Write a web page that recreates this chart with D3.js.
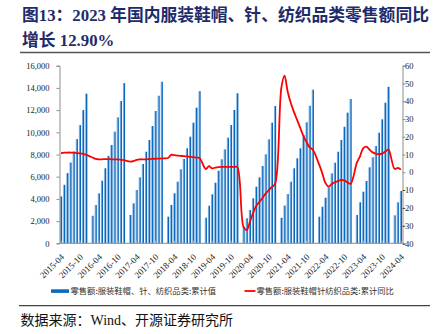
<!DOCTYPE html>
<html><head><meta charset="utf-8">
<script src="https://cdn.jsdelivr.net/npm/d3@7"></script>
<style>
html,body{margin:0;padding:0;background:#fff;}
svg{display:block;}
</style></head>
<body>
<script>
const months = [
"2015-04","2015-05","2015-06","2015-07","2015-08","2015-09","2015-10","2015-11","2015-12",
"2016-01","2016-02","2016-03","2016-04","2016-05","2016-06","2016-07","2016-08","2016-09","2016-10","2016-11","2016-12",
"2017-01","2017-02","2017-03","2017-04","2017-05","2017-06","2017-07","2017-08","2017-09","2017-10","2017-11","2017-12",
"2018-01","2018-02","2018-03","2018-04","2018-05","2018-06","2018-07","2018-08","2018-09","2018-10","2018-11","2018-12",
"2019-01","2019-02","2019-03","2019-04","2019-05","2019-06","2019-07","2019-08","2019-09","2019-10","2019-11","2019-12",
"2020-01","2020-02","2020-03","2020-04","2020-05","2020-06","2020-07","2020-08","2020-09","2020-10","2020-11","2020-12",
"2021-01","2021-02","2021-03","2021-04","2021-05","2021-06","2021-07","2021-08","2021-09","2021-10","2021-11","2021-12",
"2022-01","2022-02","2022-03","2022-04","2022-05","2022-06","2022-07","2022-08","2022-09","2022-10","2022-11","2022-12",
"2023-01","2023-02","2023-03","2023-04","2023-05","2023-06","2023-07","2023-08","2023-09","2023-10","2023-11","2023-12",
"2024-01","2024-02","2024-03","2024-04"];

// 零售额:服装鞋帽、针、纺织品类:累计值 (亿元)
const retailCum = [
4220,5270,6320,7280,8270,9390,10650,12000,13484,
null,2480,3450,4500,5640,6760,7870,8860,10060,11350,12820,14433,
null,2550,3600,4800,5945,7144,8252,9306,10567,11919,13297,14557,
null,2396,3450,4504,5550,6666,7595,8559,9604,10865,12216,13707,
null,2306,3388,4414,5459,6540,7567,8468,9514,10657,12009,13517,
null,1500,2252,3000,4054,5099,5946,6964,8018,9369,10865,12365,
null,2300,3400,4441,5550,6757,7658,8559,9760,10900,12390,13842,
null,2396,3297,4108,5038,6300,7260,8250,9306,10500,11770,13003,
null,2550,3694,4650,5610,6847,7748,8766,9965,11171,12667,14095,
null,2522,3694,4710];

// 零售额:服装鞋帽针纺织品类:累计同比 (%)
const yoyCum = [
10.7,11.0,11.1,11.1,11.0,10.8,10.6,10.3,9.8,
null,8.3,7.5,7.3,7.3,7.4,7.4,7.3,7.3,7.2,7.0,6.8,
null,6.0,6.3,7.0,7.3,7.3,7.3,7.4,7.5,7.6,7.7,7.8,
null,8.0,9.8,9.6,9.4,9.2,9.1,8.9,8.7,8.5,8.2,8.0,
null,1.8,3.4,2.2,2.6,2.9,3.0,3.0,3.0,3.0,3.0,2.9,
null,-30.9,-32.5,-28.0,-23.0,-19.0,-16.8,-14.5,-12.0,-10.0,-8.3,-6.6,
null,47.5,54.4,45.5,39.0,34.0,29.5,25.0,20.5,17.0,14.0,12.7,
null,4.4,-0.5,-6.0,-8.1,-6.6,-5.6,-5.0,-4.3,-4.6,-5.7,-6.5,
null,5.4,9.0,13.5,14.4,12.8,11.2,10.5,10.2,10.5,11.5,12.9,
null,1.9,2.5,1.5];

const xTickLabels = ["2015-04","2015-10","2016-04","2016-10","2017-04","2017-10","2018-04","2018-10",
"2019-04","2019-10","2020-04","2020-10","2021-04","2021-10","2022-04","2022-10","2023-04","2023-10","2024-04"];
const leftTicks = [0,2000,4000,6000,8000,10000,12000,14000,16000];
const rightTicks = [-40,-30,-20,-10,0,10,20,30,40,50,60];

const titleLine1 = "图13：2023 年国内服装鞋帽、针、纺织品类零售额同比";
const titleLine2 = "增长 12.90%";
const legendBar = "零售额:服装鞋帽、针、纺织品类:累计值";
const legendLine = "零售额:服装鞋帽针纺织品类:累计同比";
const sourceText = "数据来源：Wind、开源证券研究所";

const W = 441, H = 334;
const svg = d3.select("body").append("svg").attr("width", W).attr("height", H);

const defs = svg.append("defs");
const grad = defs.append("linearGradient").attr("id","barGrad").attr("x1","0").attr("x2","1").attr("y1","0").attr("y2","0");
grad.append("stop").attr("offset","0").attr("stop-color","#8fbde8");
grad.append("stop").attr("offset","0.45").attr("stop-color","#5c9ad6");
grad.append("stop").attr("offset","0.55").attr("stop-color","#0b6cc2");
grad.append("stop").attr("offset","1").attr("stop-color","#0560b4");

const serif = "'Liberation Serif','Times New Roman','Noto Sans CJK SC',serif";
const cjk = "'Noto Sans CJK SC','Liberation Serif',sans-serif";

// Title
const titleColor = "#1e2c6b";
svg.append("text").attr("x",22).attr("y",21).attr("fill",titleColor)
  .attr("font-family",serif).attr("font-weight","bold").attr("font-size","16.8px").text(titleLine1);
svg.append("text").attr("x",22).attr("y",46).attr("fill",titleColor)
  .attr("font-family",serif).attr("font-weight","bold").attr("font-size","16.8px").text(titleLine2);
svg.append("line").attr("x1",20).attr("x2",430).attr("y1",52.5).attr("y2",52.5).attr("stroke","#555").attr("stroke-width",1.3);

// Scales
const plotTop = 65.7, plotBottom = 243.3, plotLeft = 59.5, plotRight = 402.5;
const x = d3.scaleBand().domain(months).range([plotLeft, plotRight]).paddingInner(0).paddingOuter(0);
const yL = d3.scaleLinear().domain([0,16000]).range([plotBottom, plotTop]);
const yR = d3.scaleLinear().domain([-40,60]).range([plotBottom, plotTop]);
const bw = x.bandwidth();
const barW = 2.2;

// Bars
svg.append("g").selectAll("rect").data(months.map((m,i)=>({m, v: retailCum[i]})).filter(d=>d.v!=null))
  .join("rect")
  .attr("x", d => x(d.m) + (bw - barW)/2)
  .attr("width", barW)
  .attr("y", d => yL(d.v))
  .attr("height", d => yL(0) - yL(d.v))
  .attr("fill","url(#barGrad)");

// bottom inner tick marks
svg.append("g").selectAll("line").data(xTickLabels).join("line")
  .attr("x1", d => x(d) + bw/2).attr("x2", d => x(d) + bw/2)
  .attr("y1", plotBottom).attr("y2", plotBottom - 2.5)
  .attr("stroke","#b8b8b8").attr("stroke-width",1);

// Axes
const axisColor = "#8c8c8c";
const gL = svg.append("g").attr("transform",`translate(${plotLeft},0)`)
  .call(d3.axisLeft(yL).tickValues(leftTicks).tickSize(3).tickPadding(7).tickFormat(d3.format(",")));
const gR = svg.append("g").attr("transform",`translate(${plotRight},0)`)
  .call(d3.axisRight(yR).tickValues(rightTicks).tickSize(3).tickPadding(3).tickFormat(d => d));
[gL,gR].forEach(g=>{
  g.select(".domain").attr("stroke",axisColor);
  g.selectAll(".tick line").attr("stroke",axisColor);
  g.selectAll(".tick text").attr("font-family",serif).attr("font-size","8.5px").attr("fill","#222");
});
gR.selectAll(".tick text").attr("text-anchor","end").attr("x",11);

svg.append("line").attr("x1",plotLeft).attr("x2",plotRight).attr("y1",plotBottom).attr("y2",plotBottom)
  .attr("stroke",axisColor).attr("stroke-width",1);

// x labels
svg.append("g").selectAll("text").data(xTickLabels).join("text")
  .attr("transform", d => `translate(${x(d) + bw/2 + 1.5},${plotBottom + 12}) rotate(-45)`)
  .attr("text-anchor","end").attr("dy","0.35em")
  .attr("font-family",serif).attr("font-size","9px").attr("fill","#222")
  .text(d => d);

// Line
const lineData = months.map((m,i)=>({m, v: yoyCum[i]})).filter(d=>d.v!=null);
const line = d3.line().x(d => x(d.m) + bw/2).y(d => yR(d.v)).curve(d3.curveCatmullRom.alpha(0.5));
svg.append("path").datum(lineData).attr("d", line)
  .attr("fill","none").attr("stroke","#ff0000").attr("stroke-width",1.8).attr("stroke-linejoin","round");

// Legend
svg.append("rect").attr("x",51).attr("y",289.3).attr("width",18).attr("height",3.6).attr("fill","#0a6bc0");
svg.append("text").attr("x",70.5).attr("y",294).attr("font-family",cjk).attr("font-size","8.3px").attr("fill","#333").text(legendBar);
svg.append("line").attr("x1",244.5).attr("x2",255.5).attr("y1",291).attr("y2",291).attr("stroke","#ff0000").attr("stroke-width",1.8);
svg.append("text").attr("x",256.5).attr("y",294).attr("font-family",cjk).attr("font-size","8.3px").attr("fill","#333").text(legendLine);

// Footer
svg.append("line").attr("x1",19).attr("x2",430).attr("y1",305.7).attr("y2",305.7).attr("stroke","#444").attr("stroke-width",1.3);
svg.append("text").attr("x",20.5).attr("y",324.5).attr("font-family",serif).attr("font-size","14px").attr("fill","#111").text(sourceText);
</script>
</body></html>
